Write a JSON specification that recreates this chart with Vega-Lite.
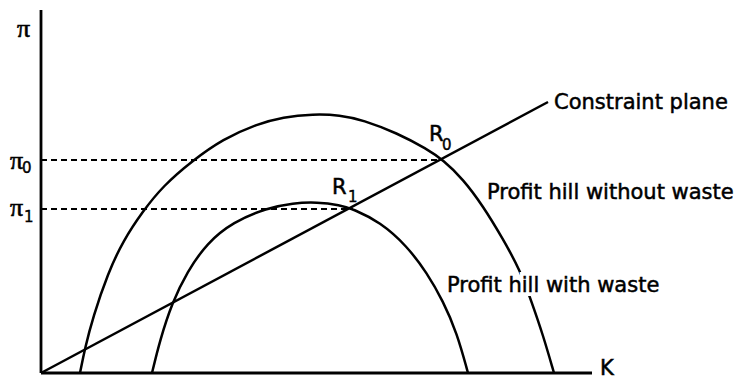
{
  "$schema": "https://vega.github.io/schema/vega-lite/v6.json",
  "width": 551,
  "height": 363,
  "padding": {"left": 41, "top": 10, "right": 151, "bottom": 7},
  "autosize": {"type": "none"},
  "background": "white",
  "config": {"view": {"stroke": null}, "font": "DejaVu Sans"},
  "datasets": {
    "axes": [
      {"k": 0, "p": 0, "k2": 551, "p2": 0},
      {"k": 0, "p": 0, "k2": 0, "p2": 363}
    ],
    "levels": [
      {"k": 0, "p": 213, "k2": 402, "p2": 213},
      {"k": 0, "p": 164, "k2": 312, "p2": 164}
    ],
    "curves": [
      {"series": "without", "k": 39, "p": 0},
      {"series": "without", "k": 44, "p": 25},
      {"series": "without", "k": 52, "p": 56},
      {"series": "without", "k": 67, "p": 100},
      {"series": "without", "k": 82, "p": 132},
      {"series": "without", "k": 102, "p": 162},
      {"series": "without", "k": 122, "p": 187},
      {"series": "without", "k": 151, "p": 212},
      {"series": "without", "k": 182, "p": 234},
      {"series": "without", "k": 216, "p": 249},
      {"series": "without", "k": 242, "p": 256},
      {"series": "without", "k": 272, "p": 259},
      {"series": "without", "k": 299, "p": 258},
      {"series": "without", "k": 322, "p": 253},
      {"series": "without", "k": 356, "p": 240},
      {"series": "without", "k": 386, "p": 224},
      {"series": "without", "k": 402, "p": 213},
      {"series": "without", "k": 422, "p": 194},
      {"series": "without", "k": 442, "p": 167},
      {"series": "without", "k": 462, "p": 134},
      {"series": "without", "k": 479, "p": 103},
      {"series": "without", "k": 491, "p": 70},
      {"series": "without", "k": 502, "p": 38},
      {"series": "without", "k": 513, "p": 0},
      {"series": "with", "k": 111, "p": 0},
      {"series": "with", "k": 119, "p": 33},
      {"series": "with", "k": 131, "p": 70},
      {"series": "with", "k": 146, "p": 101},
      {"series": "with", "k": 166, "p": 130},
      {"series": "with", "k": 192, "p": 151},
      {"series": "with", "k": 226, "p": 165},
      {"series": "with", "k": 252, "p": 170},
      {"series": "with", "k": 276, "p": 171},
      {"series": "with", "k": 299, "p": 168},
      {"series": "with", "k": 312, "p": 164},
      {"series": "with", "k": 339, "p": 151},
      {"series": "with", "k": 366, "p": 127},
      {"series": "with", "k": 386, "p": 100},
      {"series": "with", "k": 402, "p": 72},
      {"series": "with", "k": 416, "p": 40},
      {"series": "with", "k": 427, "p": 0},
      {"series": "constraint", "k": 0, "p": 0},
      {"series": "constraint", "k": 507, "p": 271}
    ],
    "greek": [
      {"label": "π", "k": -24, "p": 344},
      {"label": "π", "k": -31, "p": 212},
      {"label": "π", "k": -31, "p": 165}
    ],
    "labels": [
      {"label": "K", "k": 559, "p": 4},
      {"label": "R", "k": 388, "p": 238},
      {"label": "R", "k": 291, "p": 185},
      {"label": "Constraint plane", "k": 513, "p": 270},
      {"label": "Profit hill without waste", "k": 446, "p": 180},
      {"label": "Profit hill with waste", "k": 406, "p": 87}
    ],
    "subscripts": [
      {"label": "0", "k": -19, "p": 205},
      {"label": "1", "k": -17, "p": 156},
      {"label": "0", "k": 401, "p": 228},
      {"label": "1", "k": 307, "p": 176}
    ],
    "halo": [
      {"label": "Profit hill with waste", "k": 406, "p": 87}
    ]
  },
  "encoding": {
    "x": {"field": "k", "type": "quantitative", "scale": {"domain": [0, 551], "nice": false, "zero": false}, "axis": null},
    "y": {"field": "p", "type": "quantitative", "scale": {"domain": [0, 363], "nice": false, "zero": false}, "axis": null}
  },
  "layer": [
    {
      "data": {"name": "levels"},
      "mark": {"type": "rule", "color": "black", "strokeWidth": 2.2, "strokeDash": [6, 4]},
      "encoding": {"x2": {"field": "k2"}, "y2": {"field": "p2"}}
    },
    {
      "data": {"name": "curves"},
      "mark": {"type": "line", "color": "black", "strokeWidth": 2.5, "interpolate": "basis"},
      "encoding": {"detail": {"field": "series", "type": "nominal"}}
    },
    {
      "data": {"name": "axes"},
      "mark": {"type": "rule", "color": "black", "strokeWidth": 2.8},
      "encoding": {"x2": {"field": "k2"}, "y2": {"field": "p2"}}
    },
    {
      "data": {"name": "halo"},
      "mark": {"type": "text", "align": "left", "baseline": "middle", "fontSize": 21, "fill": "white", "stroke": "white", "strokeWidth": 8},
      "encoding": {"text": {"field": "label"}}
    },
    {
      "data": {"name": "labels"},
      "mark": {"type": "text", "align": "left", "baseline": "middle", "fontSize": 21, "fill": "black", "stroke": "black", "strokeWidth": 0.5},
      "encoding": {"text": {"field": "label"}}
    },
    {
      "data": {"name": "greek"},
      "mark": {"type": "text", "align": "left", "baseline": "middle", "fontSize": 26, "font": "Liberation Serif", "fill": "black", "stroke": "black", "strokeWidth": 0.6},
      "encoding": {"text": {"field": "label"}}
    },
    {
      "data": {"name": "subscripts"},
      "mark": {"type": "text", "align": "left", "baseline": "middle", "fontSize": 15, "fill": "black", "stroke": "black", "strokeWidth": 0.4},
      "encoding": {"text": {"field": "label"}}
    }
  ]
}
